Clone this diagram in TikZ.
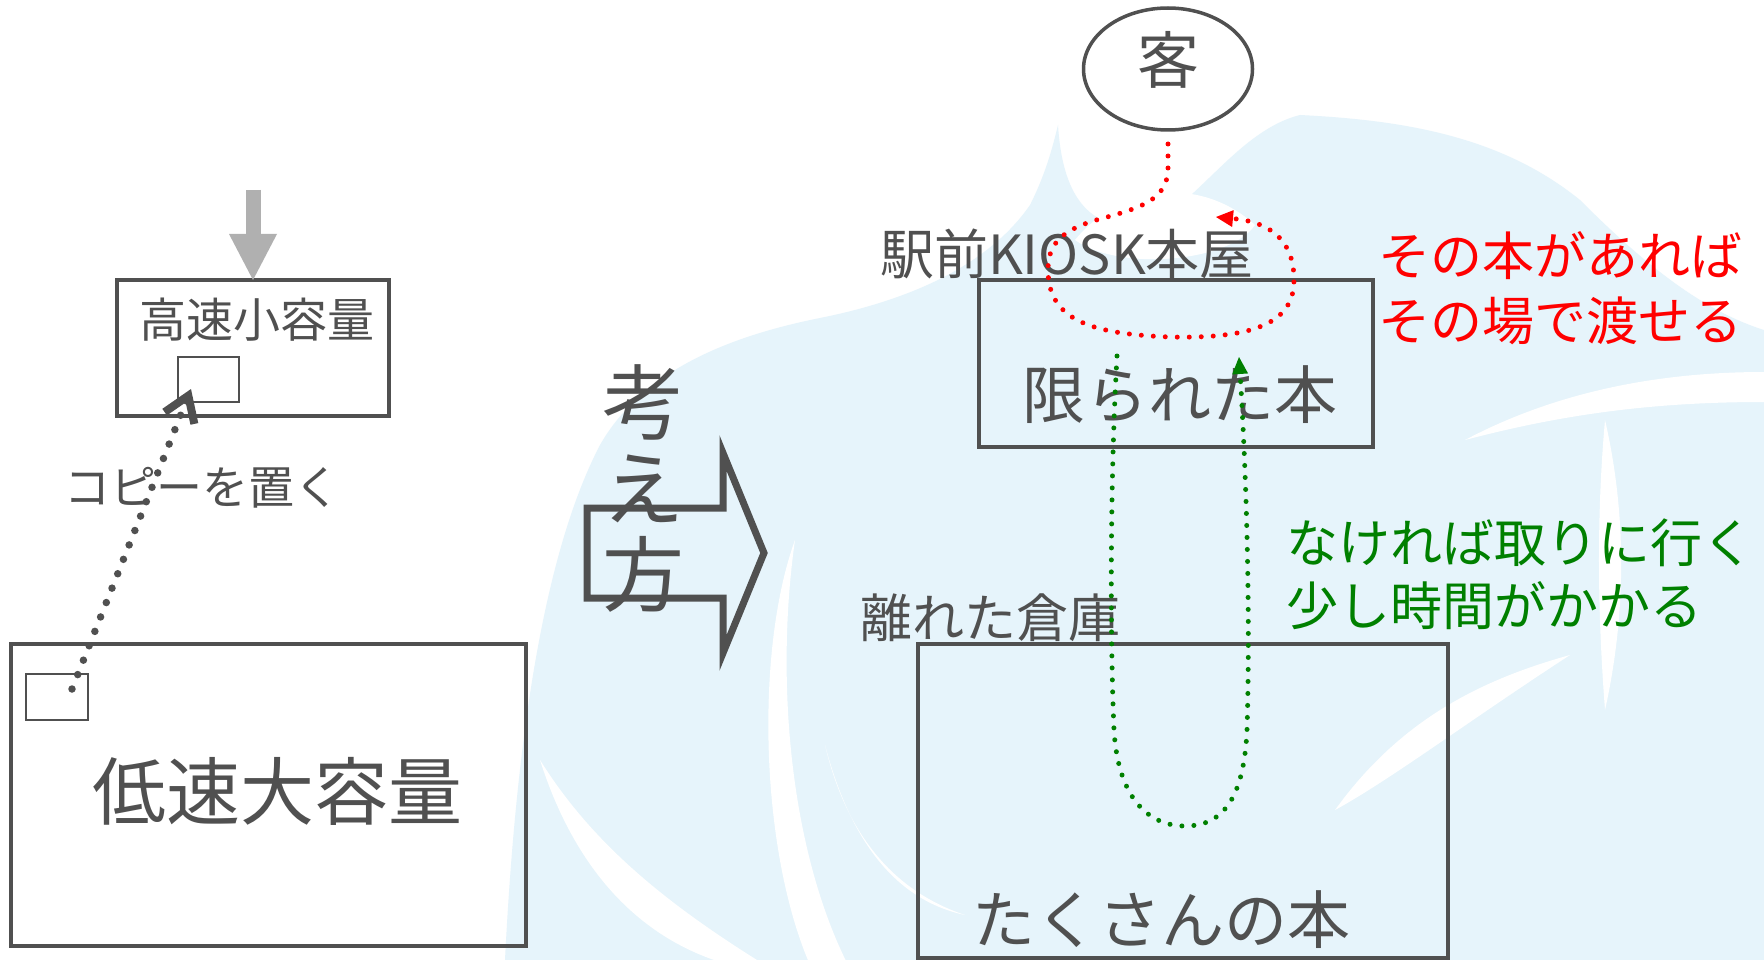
\documentclass[tikz,border=0pt]{standalone}
\usepackage{fontspec}
\setmainfont{Noto Sans CJK JP}
\usetikzlibrary{arrows.meta,shapes.geometric}
\definecolor{ink}{HTML}{505050}
\definecolor{wm}{HTML}{E6F4FB}
\definecolor{grayarrow}{HTML}{B0B0B0}
\definecolor{gr}{HTML}{008000}
\definecolor{rd}{HTML}{FF0000}
\newcommand{\myfs}[1]{\fontsize{#1}{#1}\selectfont}
\begin{document}
\begin{tikzpicture}[x=1pt,y=-1pt,
  box/.style={draw=ink, line width=3.5pt, rectangle, inner sep=0pt, outer sep=0pt},
  sq/.style={draw=ink, line width=2pt, rectangle, inner sep=0pt, outer sep=0pt},
  lbl/.style={text=ink, inner sep=0pt, outer sep=0pt},
  band/.style={fill=white},
  reddot/.style={draw=rd, line width=5pt, line cap=round, dash pattern=on 0pt off 12pt,
     -{Triangle[length=17pt,width=17pt,line width=0pt]}},
  greendot/.style={draw=gr, line width=5pt, line cap=round, dash pattern=on 0pt off 12pt,
     -{Triangle[length=17pt,width=16pt,line width=0pt]}},
  copyarrow/.style={draw=ink, line width=7.5pt, line cap=round, dash pattern=on 0pt off 15.5pt,
     -{Straight Barb[length=24pt,width=32pt,line width=8pt]}}
]
\useasboundingbox (0,0) rectangle (1764,960);
\fill[white] (0,0) rectangle (1764,960);

% watermark (background emblem)
\fill[wm] (505,960) .. controls (515,760) and (540,560) .. (600,445)
  .. controls (640,375) and (720,338) .. (820,318)
  .. controls (900,302) and (985,270) .. (1030,205)
  .. controls (1045,175) and (1052,150) .. (1058,125)
  .. controls (1062,190) and (1085,235) .. (1150,225)
  .. controls (1200,200) and (1240,130) .. (1300,115)
  .. controls (1400,120) and (1500,135) .. (1580,200)
  .. controls (1640,260) and (1700,310) .. (1764,330) -- (1764,960) -- cycle;
\fill[band] (540,760) .. controls (575,870) and (640,940) .. (730,965) -- (765,965)
  .. controls (660,900) and (590,840) .. (540,760) -- cycle;
\fill[band] (795,540) .. controls (755,650) and (760,850) .. (810,965) -- (848,965)
  .. controls (790,850) and (775,680) .. (795,540) -- cycle;
\fill[band] (825,745) .. controls (845,830) and (890,890) .. (965,915)
  .. controls (895,900) and (850,840) .. (825,745) -- cycle;
\fill[band] (1465,440) .. controls (1550,395) and (1650,372) .. (1764,372) -- (1764,402)
  .. controls (1650,402) and (1560,415) .. (1465,440) -- cycle;
\fill[band] (1605,420) .. controls (1628,520) and (1625,620) .. (1605,710)
  .. controls (1598,620) and (1596,520) .. (1605,420) -- cycle;
\fill[band] (1335,810) .. controls (1400,720) and (1480,680) .. (1570,655)
  .. controls (1470,720) and (1390,780) .. (1335,810) -- cycle;
\fill[band] (1075,240) .. controls (1120,185) and (1200,175) .. (1255,225)
  .. controls (1230,262) and (1120,272) .. cycle;

% left part
\node[box, minimum width=272pt, minimum height=136pt] (hs) at (253,348) {};
\node[lbl, font=\myfs{47}] (hslbl) at (257,320) {高速小容量};
\node[sq, minimum width=61pt, minimum height=45pt] (hssq) at (208.5,379.5) {};
\coordinate (gtop) at (253,190);
\draw[grayarrow, line width=15pt, -{Triangle[length=46pt,width=48pt,line width=0pt]}] (gtop) -- (hs.north);

\node[box, minimum width=515pt, minimum height=302pt] (ls) at (268.5,795) {};
\node[sq, minimum width=62pt, minimum height=46pt] (lssq) at (57,697) {};
\node[lbl, font=\myfs{74}] (lslbl) at (277,791) {低速大容量};
\node[lbl, font=\myfs{46}] (copylbl) at (202,488) {コピーを置く};
\coordinate (cpA) at (72,689);
\coordinate (cpB) at (191,389);
\draw[copyarrow] (cpA) -- (cpB);

% big hollow arrow
\draw[ink, line width=7pt, line join=miter] (587,508) -- (723,508) -- (723,453) -- (764,553)
  -- (723,653) -- (723,598) -- (587,598) -- cycle;
\node[lbl, font={\fontsize{82}{86}\selectfont}, align=center] (kangae) at (643,488) {考\\え\\方};

% right part
\node[ellipse, draw=ink, line width=3.5pt, minimum width=169pt, minimum height=122pt,
  inner sep=0pt, outer sep=0pt, text=ink, font=\myfs{62}, text height=52pt, text depth=22pt] (guest) at (1168,69) {客};
\node[lbl, font=\myfs{54}] (kiosklbl) at (1067,254) {駅前KIOSK本屋};
\node[box, minimum width=394pt, minimum height=167pt] (kiosk) at (1176,363.5) {};
\node[lbl, font=\myfs{63}] (kiosktxt) at (1180,395) {限られた本};
\node[lbl, text=rd, font={\fontsize{52}{65}\selectfont}, align=left, anchor=west] (redtxt) at (1378,288) {その本があれば\\その場で渡せる};
\node[lbl, text=gr, font={\fontsize{52}{63}\selectfont}, align=left, anchor=west] (greentxt) at (1286,574) {なければ取りに行く\\少し時間がかかる};
\node[lbl, font=\myfs{52}] (whlbl) at (990,618) {離れた倉庫};
\node[box, minimum width=530pt, minimum height=314pt] (wh) at (1183,801) {};
\node[lbl, font=\myfs{63}] (whtxt) at (1161,920) {たくさんの本};

% red loop
\coordinate (redend) at (1216,217);
\draw[reddot] ([yshift=-14pt]guest.south) -- (1168,168)
  .. controls (1168,200) and (1140,208) .. (1100,219)
  .. controls (1060,230) and (1048,245) .. (1048,270)
  .. controls (1048,322) and (1095,334) .. (1170,337)
  .. controls (1260,339) and (1294,320) .. (1294,280)
  .. controls (1294,240) and (1270,222) .. (redend);

% green loop
\coordinate (gs) at (1117,356);
\coordinate (ge) at (1239,357);
\draw[greendot] (gs) .. controls (1110,480) and (1110,640) .. (1114,730)
  .. controls (1118,800) and (1150,826) .. (1185,826)
  .. controls (1225,826) and (1244,795) .. (1247,730)
  .. controls (1251,600) and (1245,450) .. (ge);
\end{tikzpicture}
\end{document}
